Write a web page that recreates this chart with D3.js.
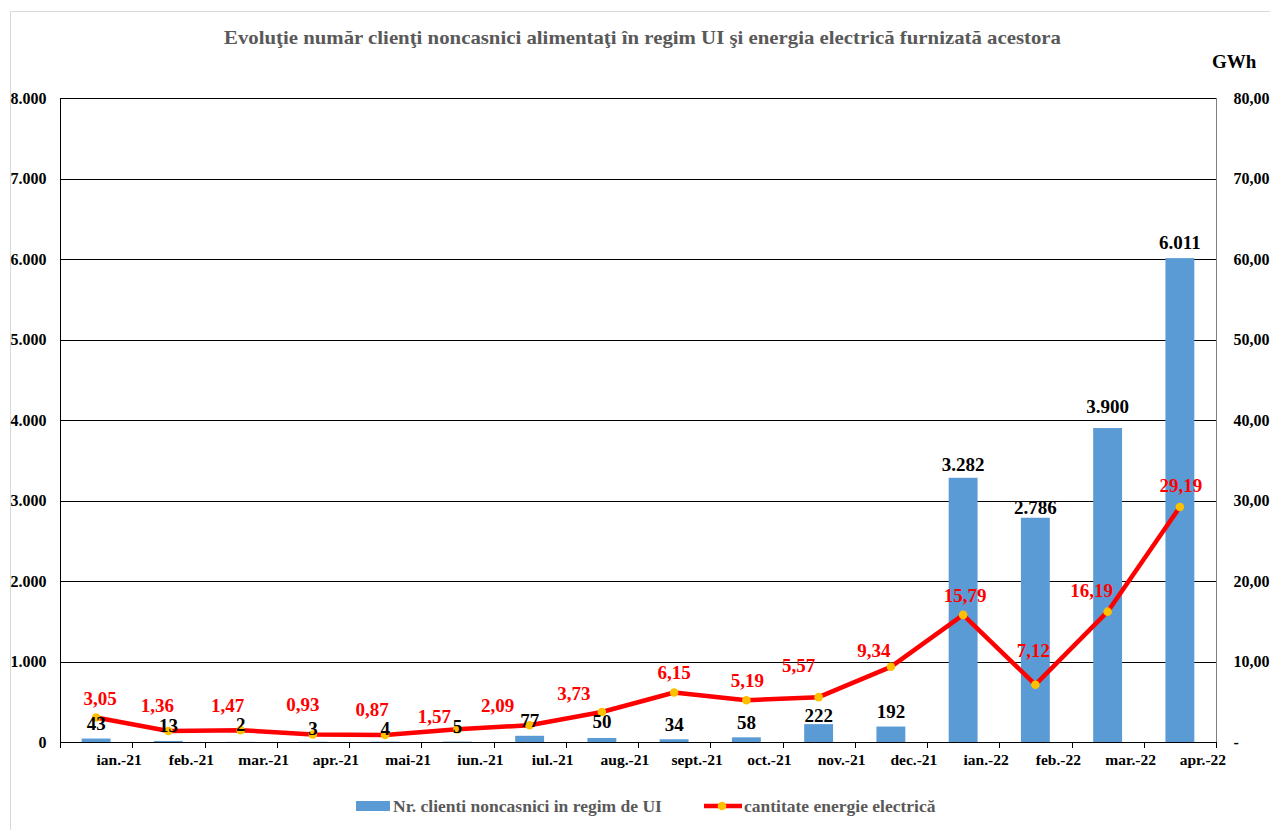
<!DOCTYPE html>
<html>
<head>
<meta charset="utf-8">
<script src="https://cdn.jsdelivr.net/npm/d3@7/dist/d3.min.js"></script>
<style>
  html, body { margin: 0; padding: 0; background: #fff; }
  svg { display: block; }
  text { font-family: "Liberation Serif", "Times New Roman", serif; font-weight: bold; }
</style>
</head>
<body>
<svg id="chart" width="1270" height="830"></svg>
<script>
// ---- data ----
const categories = ["ian.-21","feb.-21","mar.-21","apr.-21","mai-21","iun.-21","iul.-21","aug.-21","sept.-21","oct.-21","nov.-21","dec.-21","ian.-22","feb.-22","mar.-22","apr.-22"];
const clients = [43, 13, 2, 3, 4, 5, 77, 50, 34, 58, 222, 192, 3282, 2786, 3900, 6011];
const energy = [3.05, 1.36, 1.47, 0.93, 0.87, 1.57, 2.09, 3.73, 6.15, 5.19, 5.57, 9.34, 15.79, 7.12, 16.19, 29.19];
const leftTicks = [0, 1000, 2000, 3000, 4000, 5000, 6000, 7000, 8000];
const rightTicks = [0, 10, 20, 30, 40, 50, 60, 70, 80];
const titleText = "Evoluţie număr  clienţi noncasnici  alimentaţi în regim UI şi energia electrică furnizată acestora";
const seriesNames = ["Nr. clienti noncasnici in regim de UI", "cantitate energie electrică"];
const rightUnit = "GWh";

// label nudges (layout only, in px)
const lineLabelDx = [4, -11, -13, -10, -13, -23, -32, -28, 0, 1, -20, -17, 2, -2, -16, 1];
const lineLabelDy = [1, -6, -5, -10, -5, 7, 0, 1.5, 0, 0, -12, 4, 1, -14, -1, -2];
const barLabelDy = [0, 0, -2, 2, 2, 0, 0, -1, 0, 0, 6, 0, 2, 5, -7, -1];

// ---- layout ----
const L = 60, R = 1216, T = 98, B = 742;
const svg = d3.select("#chart");
const loc = d3.formatLocale({decimal: ",", thousands: ".", grouping: [3], currency: ["", ""]});
const fmtInt = loc.format(",.0f");
const fmtDec = loc.format(",.2f");

const x = d3.scaleBand().domain(categories).range([L, R]).paddingInner(0.6).paddingOuter(0.3);
const step = x.step();
const yL = d3.scaleLinear().domain([0, 8000]).range([B, T]);
const yR = d3.scaleLinear().domain([0, 80]).range([B, T]);

// outer border
svg.append("rect").attr("x", 10.5).attr("y", 11.5).attr("width", 1300).attr("height", 900)
  .attr("fill", "none").attr("stroke", "#d9d9d9");

// title
svg.append("text").attr("x", 224).attr("y", 44).attr("font-size", 19)
  .attr("fill", "#595959").attr("textLength", 837).attr("lengthAdjust", "spacingAndGlyphs")
  .text(titleText);

// unit
svg.append("text").attr("x", 1212).attr("y", 68).attr("font-size", 19).attr("fill", "#000").text(rightUnit);

// gridlines
svg.append("g").selectAll("line").data(leftTicks).join("line")
  .attr("x1", L).attr("x2", R)
  .attr("y1", d => Math.round(yL(d)) + 0.5).attr("y2", d => Math.round(yL(d)) + 0.5)
  .attr("stroke", "#000").attr("stroke-width", 1);

// left axis
const gL = svg.append("g").attr("transform", `translate(${L + 0.5},0)`)
  .call(d3.axisLeft(yL).tickValues(leftTicks).tickSize(0).tickPadding(14).tickFormat(d => fmtInt(d)));
gL.select(".domain").attr("stroke", "#000").attr("d", `M0,${T}V${B + 6}`);
gL.selectAll("text").attr("font-size", 16).attr("fill", "#000");

// right axis
const gR = svg.append("g").attr("transform", `translate(${R + 0.5},0)`)
  .call(d3.axisRight(yR).tickValues(rightTicks).tickSize(0).tickPadding(17).tickFormat(d => d === 0 ? "-" : fmtDec(d)));
gR.select(".domain").attr("stroke", "#7f7f7f").attr("d", `M0,${T}V${B + 6}`);
gR.selectAll("text").attr("font-size", 16).attr("fill", "#000");

// bottom axis ticks at category boundaries
const bounds = d3.range(categories.length + 1).map(i => L + i * step);
svg.append("g").selectAll("line").data(bounds).join("line")
  .attr("x1", d => Math.round(d) + 0.5).attr("x2", d => Math.round(d) + 0.5)
  .attr("y1", B).attr("y2", B + 6).attr("stroke", "#000");

// category labels
svg.append("g").selectAll("text").data(categories).join("text")
  .attr("x", d => x(d) + x.bandwidth() / 2 + 23).attr("y", 765)
  .attr("text-anchor", "middle").attr("font-size", 15.5).attr("fill", "#000")
  .text(d => d);

// bars
svg.append("g").selectAll("rect").data(clients).join("rect")
  .attr("x", (d, i) => x(categories[i])).attr("width", x.bandwidth())
  .attr("y", d => yL(d)).attr("height", d => B - yL(d))
  .attr("fill", "#5b9bd5");

// line
const cx = i => x(categories[i]) + x.bandwidth() / 2;
const line = d3.line().x((d, i) => cx(i)).y(d => yR(d));
svg.append("path").datum(energy).attr("d", line)
  .attr("fill", "none").attr("stroke", "#ff0000").attr("stroke-width", 4.5)
  .attr("stroke-linejoin", "round").attr("stroke-linecap", "round");
svg.append("g").selectAll("circle").data(energy).join("circle")
  .attr("cx", (d, i) => cx(i)).attr("cy", d => yR(d)).attr("r", 4.3)
  .attr("fill", "#ffc000");

// bar labels (drawn above the line, as in the original)
svg.append("g").selectAll("text").data(clients).join("text")
  .attr("x", (d, i) => x(categories[i]) + x.bandwidth() / 2)
  .attr("y", (d, i) => yL(d) - 15 + 6.5 + barLabelDy[i])
  .attr("text-anchor", "middle").attr("font-size", 19).attr("fill", "#000")
  .text(d => fmtInt(d));

// line labels
svg.append("g").selectAll("text").data(energy).join("text")
  .attr("x", (d, i) => cx(i) + lineLabelDx[i])
  .attr("y", (d, i) => yR(d) - 20 + 6.5 + lineLabelDy[i])
  .attr("text-anchor", "middle").attr("font-size", 19).attr("fill", "#ff0000")
  .text(d => fmtDec(d));

// legend
const lg = svg.append("g");
lg.append("rect").attr("x", 356).attr("y", 801).attr("width", 34).attr("height", 10).attr("fill", "#5b9bd5");
lg.append("text").attr("x", 393).attr("y", 812).attr("font-size", 17.5).attr("fill", "#595959").text(seriesNames[0]);
lg.append("line").attr("x1", 704).attr("x2", 742).attr("y1", 806).attr("y2", 806)
  .attr("stroke", "#ff0000").attr("stroke-width", 4.5);
lg.append("circle").attr("cx", 722).attr("cy", 806).attr("r", 4.3).attr("fill", "#ffc000");
lg.append("text").attr("x", 744).attr("y", 812).attr("font-size", 17.5).attr("fill", "#595959").text(seriesNames[1]);
</script>
</body>
</html>
